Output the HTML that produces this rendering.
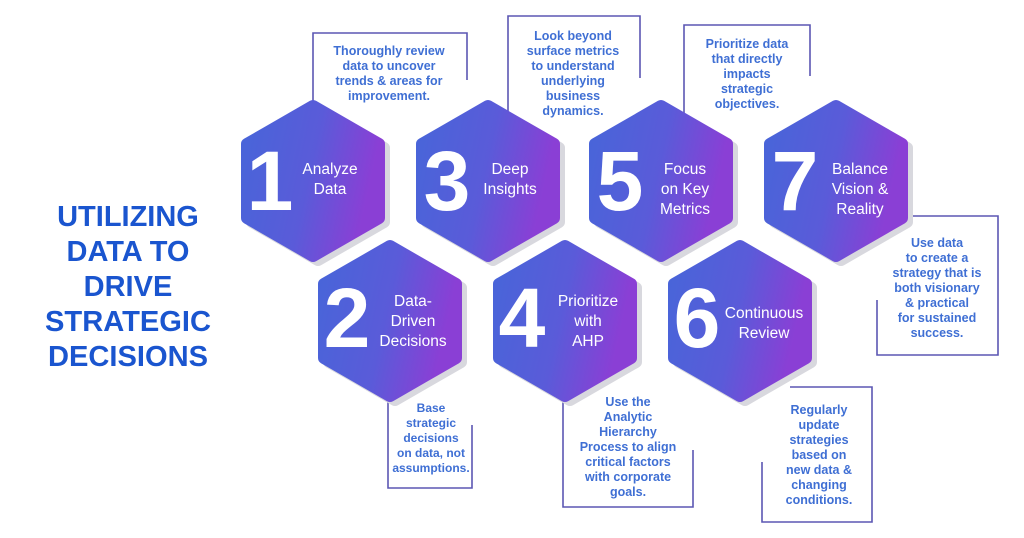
<!DOCTYPE html>
<html><head><meta charset="utf-8"><style>
html,body{margin:0;padding:0;background:#fff;}
svg{display:block;}
.d{font-family:"Liberation Sans",sans-serif;font-weight:bold;font-size:12.5px;fill:#3f6fd4;text-anchor:middle;}
.s{font-size:12px;}
.n{font-family:"Liberation Sans",sans-serif;font-weight:900;font-size:84px;fill:#fff;text-anchor:middle;}
.l{font-family:"Liberation Sans",sans-serif;font-size:15.5px;fill:#fff;text-anchor:middle;}
.t{font-family:"Liberation Sans",sans-serif;font-weight:bold;font-size:29px;fill:#1a55cf;text-anchor:middle;}
.b{fill:none;stroke:#5b57b3;stroke-width:1.6;}
</style></head><body>
<svg width="1024" height="538" viewBox="0 0 1024 538" xmlns="http://www.w3.org/2000/svg">
<defs>
<linearGradient id="g" x1="0" y1="0" x2="1" y2="0.25">
<stop offset="0" stop-color="#4865d9"/><stop offset="0.55" stop-color="#5a5bd9"/><stop offset="1" stop-color="#8a3fd5"/>
</linearGradient>
<polygon id="h" points="0,-75 66,-37 66,37 0,75 -66,37 -66,-37" stroke-linejoin="round" stroke-width="12"/>
</defs>
<text class="t" x="128" y="226">UTILIZING</text>
<text class="t" x="128" y="261">DATA TO</text>
<text class="t" x="128" y="296">DRIVE</text>
<text class="t" x="128" y="331" textLength="166" lengthAdjust="spacingAndGlyphs">STRATEGIC</text>
<text class="t" x="128" y="366" textLength="160" lengthAdjust="spacingAndGlyphs">DECISIONS</text>

<path class="b" d="M313,110 V33 H467 V80"/>
<path class="b" d="M508,115 V16 H640 V78"/>
<path class="b" d="M684,115 V25 H810 V76"/>
<path class="b" d="M877,300 V355 H998 V216 H905"/>
<path class="b" d="M388,395 V488 H472 V425"/>
<path class="b" d="M563,395 V507 H693 V450"/>
<path class="b" d="M762,462 V522 H872 V387 H790"/>

<g fill="#d8d8de" stroke="#d8d8de">
<use href="#h" x="318" y="185"/><use href="#h" x="493" y="185"/><use href="#h" x="666" y="185"/><use href="#h" x="841" y="185"/>
<use href="#h" x="395" y="325"/><use href="#h" x="570" y="325"/><use href="#h" x="745" y="325"/>
</g>
<g fill="url(#g)" stroke="url(#g)">
<use href="#h" x="313" y="181"/><use href="#h" x="488" y="181"/><use href="#h" x="661" y="181"/><use href="#h" x="836" y="181"/>
<use href="#h" x="390" y="321"/><use href="#h" x="565" y="321"/><use href="#h" x="740" y="321"/>
</g>

<text class="n" x="270" y="210">1</text>
<text class="l" x="330" y="174">Analyze</text><text class="l" x="330" y="194">Data</text>
<text class="n" x="447" y="210">3</text>
<text class="l" x="510" y="174">Deep</text><text class="l" x="510" y="194">Insights</text>
<text class="n" x="620" y="210">5</text>
<text class="l" x="685" y="174">Focus</text><text class="l" x="685" y="194">on Key</text><text class="l" x="685" y="214">Metrics</text>
<text class="n" x="795" y="210">7</text>
<text class="l" x="860" y="174">Balance</text><text class="l" x="860" y="194">Vision &amp;</text><text class="l" x="860" y="214">Reality</text>
<text class="n" x="347" y="347">2</text>
<text class="l" x="413" y="306">Data-</text><text class="l" x="413" y="326">Driven</text><text class="l" x="413" y="346">Decisions</text>
<text class="n" x="522" y="347">4</text>
<text class="l" x="588" y="306">Prioritize</text><text class="l" x="588" y="326">with</text><text class="l" x="588" y="346">AHP</text>
<text class="n" x="697" y="347">6</text>
<text class="l" x="764" y="318">Continuous</text><text class="l" x="764" y="338">Review</text>

<g class="d">
<text x="389" y="55">Thoroughly review</text><text x="389" y="70">data to uncover</text><text x="389" y="85">trends &amp; areas for</text><text x="389" y="100">improvement.</text>
<text x="573" y="40">Look beyond</text><text x="573" y="55">surface metrics</text><text x="573" y="70">to understand</text><text x="573" y="85">underlying</text><text x="573" y="100">business</text><text x="573" y="115">dynamics.</text>
<text x="747" y="48">Prioritize data</text><text x="747" y="63">that directly</text><text x="747" y="78">impacts</text><text x="747" y="93">strategic</text><text x="747" y="108">objectives.</text>
<text x="937" y="247">Use data</text><text x="937" y="262">to create a</text><text x="937" y="277">strategy that is</text><text x="937" y="292">both visionary</text><text x="937" y="307">&amp; practical</text><text x="937" y="322">for sustained</text><text x="937" y="337">success.</text>
<g class="s"><text x="431" y="412">Base</text><text x="431" y="427">strategic</text><text x="431" y="442">decisions</text><text x="431" y="457">on data, not</text><text x="431" y="472">assumptions.</text></g>
<text x="628" y="406">Use the</text><text x="628" y="421">Analytic</text><text x="628" y="436">Hierarchy</text><text x="628" y="451">Process to align</text><text x="628" y="466">critical factors</text><text x="628" y="481">with corporate</text><text x="628" y="496">goals.</text>
<text x="819" y="414">Regularly</text><text x="819" y="429">update</text><text x="819" y="444">strategies</text><text x="819" y="459">based on</text><text x="819" y="474">new data &amp;</text><text x="819" y="489">changing</text><text x="819" y="504">conditions.</text>
</g>
</svg>
</body></html>
